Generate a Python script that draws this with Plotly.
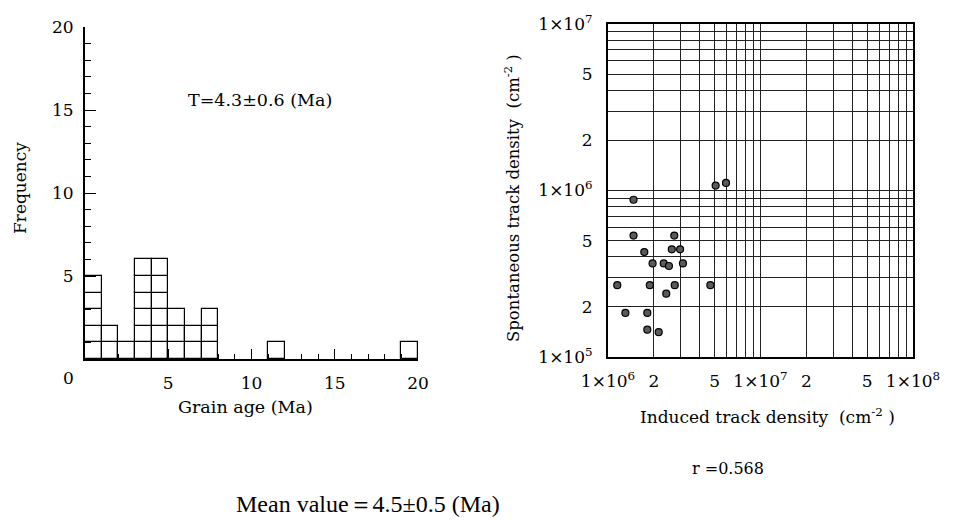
import plotly.graph_objects as go

# ---------------- data ----------------
bin_left = [0, 1, 2, 3, 4, 5, 6, 7, 11, 19]
counts = [5, 2, 1, 6, 6, 3, 2, 3, 1, 1]

induced = [1.47e6, 5.08e6, 5.94e6, 1.47e6, 2.72e6, 1.73e6, 2.62e6, 2.97e6, 1.96e6, 2.32e6, 2.51e6,
           3.10e6, 1.15e6, 1.88e6, 2.74e6, 4.69e6, 2.41e6, 1.30e6, 1.81e6, 1.81e6, 2.15e6]
spontaneous = [8.8e5, 1.07e6, 1.11e6, 5.36e5, 5.36e5, 4.27e5, 4.43e5, 4.43e5, 3.65e5, 3.65e5, 3.52e5,
               3.65e5, 2.70e5, 2.70e5, 2.70e5, 2.70e5, 2.40e5, 1.84e5, 1.84e5, 1.46e5, 1.41e5]

hist_ticks = [5, 10, 15, 20]
freq_ticks = [5, 10, 15, 20]
log_x_ticks = [1e6, 2e6, 5e6, 1e7, 2e7, 5e7, 1e8]
log_x_text = ["1×10<sup>6</sup>", "2", "5", "1×10<sup>7</sup>", "2", "5", "1×10<sup>8</sup>"]
log_y_ticks = [1e5, 2e5, 5e5, 1e6, 2e6, 5e6, 1e7]
log_y_text = ["1×10<sup>5</sup>", "2", "5", "1×10<sup>6</sup>", "2", "5", "1×10<sup>7</sup>"]

FONT = "'DejaVu Serif', 'Liberation Serif', serif"
fig = go.Figure()

# stacked unit boxes of the histogram
max_count = max(counts)
for level in range(1, max_count + 1):
    xs = [b + 0.5 for b, c in zip(bin_left, counts) if c >= level]
    fig.add_trace(go.Bar(
        x=xs, y=[1] * len(xs), base=[level - 1] * len(xs), width=1,
        marker=dict(color="white", line=dict(color="black", width=1.2)),
        xaxis="x", yaxis="y", showlegend=False, hoverinfo="skip"))

# scatter
fig.add_trace(go.Scatter(
    x=induced, y=spontaneous, mode="markers",
    marker=dict(size=7, color="#5a5a5a", line=dict(color="black", width=1.2)),
    xaxis="x2", yaxis="y2", showlegend=False))

minor_log_x = [k * 10 ** d for d in (6, 7) for k in range(2, 10)]
minor_log_y = [k * 10 ** d for d in (5, 6) for k in range(2, 10)]

fig.update_layout(
    width=955, height=520,
    margin=dict(l=0, r=0, t=0, b=0),
    paper_bgcolor="white", plot_bgcolor="white",
    font=dict(family=FONT, size=17, color="black"),
    barmode="overlay", bargap=0,
    xaxis=dict(domain=[85 / 955, 418 / 955], range=[0, 20], anchor="y",
               showline=True, linecolor="black", linewidth=2, showgrid=False, zeroline=False,
               tickvals=hist_ticks,
               ticks="inside", ticklen=10, tickcolor="black", tickwidth=1,
               minor=dict(dtick=1, ticks="inside", ticklen=5, tickcolor="black"),
               ticklabelstandoff=8, automargin=False),
    yaxis=dict(domain=[1 - 359 / 520, 1 - 27 / 520], range=[0, 20], anchor="x",
               showline=True, linecolor="black", linewidth=2, showgrid=False, zeroline=False,
               tickvals=freq_ticks, ticks="inside", ticklen=11, tickcolor="black", tickwidth=1,
               minor=dict(dtick=1, ticks="inside", ticklen=6, tickcolor="black"),
               ticklabelstandoff=6, automargin=False),
    xaxis2=dict(domain=[608 / 955, 913 / 955], type="log", range=[6, 8], anchor="y2",
                showline=True, linecolor="black", linewidth=2, mirror=True,
                tickvals=log_x_ticks, ticktext=log_x_text, ticks="",
                showgrid=True, gridcolor="#222", gridwidth=1, zeroline=False,
                minor=dict(tickvals=minor_log_x, showgrid=True, gridcolor="#222", gridwidth=1, ticks=""),
                ticklabelstandoff=8, automargin=False),
    yaxis2=dict(domain=[1 - 357 / 520, 1 - 24 / 520], type="log", range=[5, 7], anchor="x2",
                showline=True, linecolor="black", linewidth=2, mirror=True,
                tickvals=log_y_ticks, ticktext=log_y_text, ticks="",
                showgrid=True, gridcolor="#222", gridwidth=1, zeroline=False,
                minor=dict(tickvals=minor_log_y, showgrid=True, gridcolor="#222", gridwidth=1, ticks=""),
                ticklabelstandoff=10, automargin=False),
)

def txt(x, y, s, size=15, angle=0, family=FONT):
    fig.add_annotation(x=x / 955, y=1 - y / 520, xref="paper", yref="paper", text=s,
                       showarrow=False, textangle=angle, xanchor="center", yanchor="middle",
                       font=dict(family=family, size=size, color="black"))

txt(68, 378, "0", size=17)
txt(260, 100, "T=4.3±0.6 (Ma)", size=17.5)
txt(245, 407, "Grain age (Ma)", size=17.5)
txt(20, 188, "Frequency", size=17, angle=-90)
txt(512, 198, "Spontaneous track density\u00a0\u00a0(cm<sup>-2</sup>\u00a0)", size=16.5, angle=-90)
txt(767, 416, "Induced track density\u00a0\u00a0(cm<sup>-2</sup>\u00a0)", size=17)
txt(728, 468, "r =0.568", size=16)
txt(368, 504, "Mean value＝4.5±0.5 (Ma)", size=24, family="'Liberation Serif', serif")

fig.write_html("out.html")
